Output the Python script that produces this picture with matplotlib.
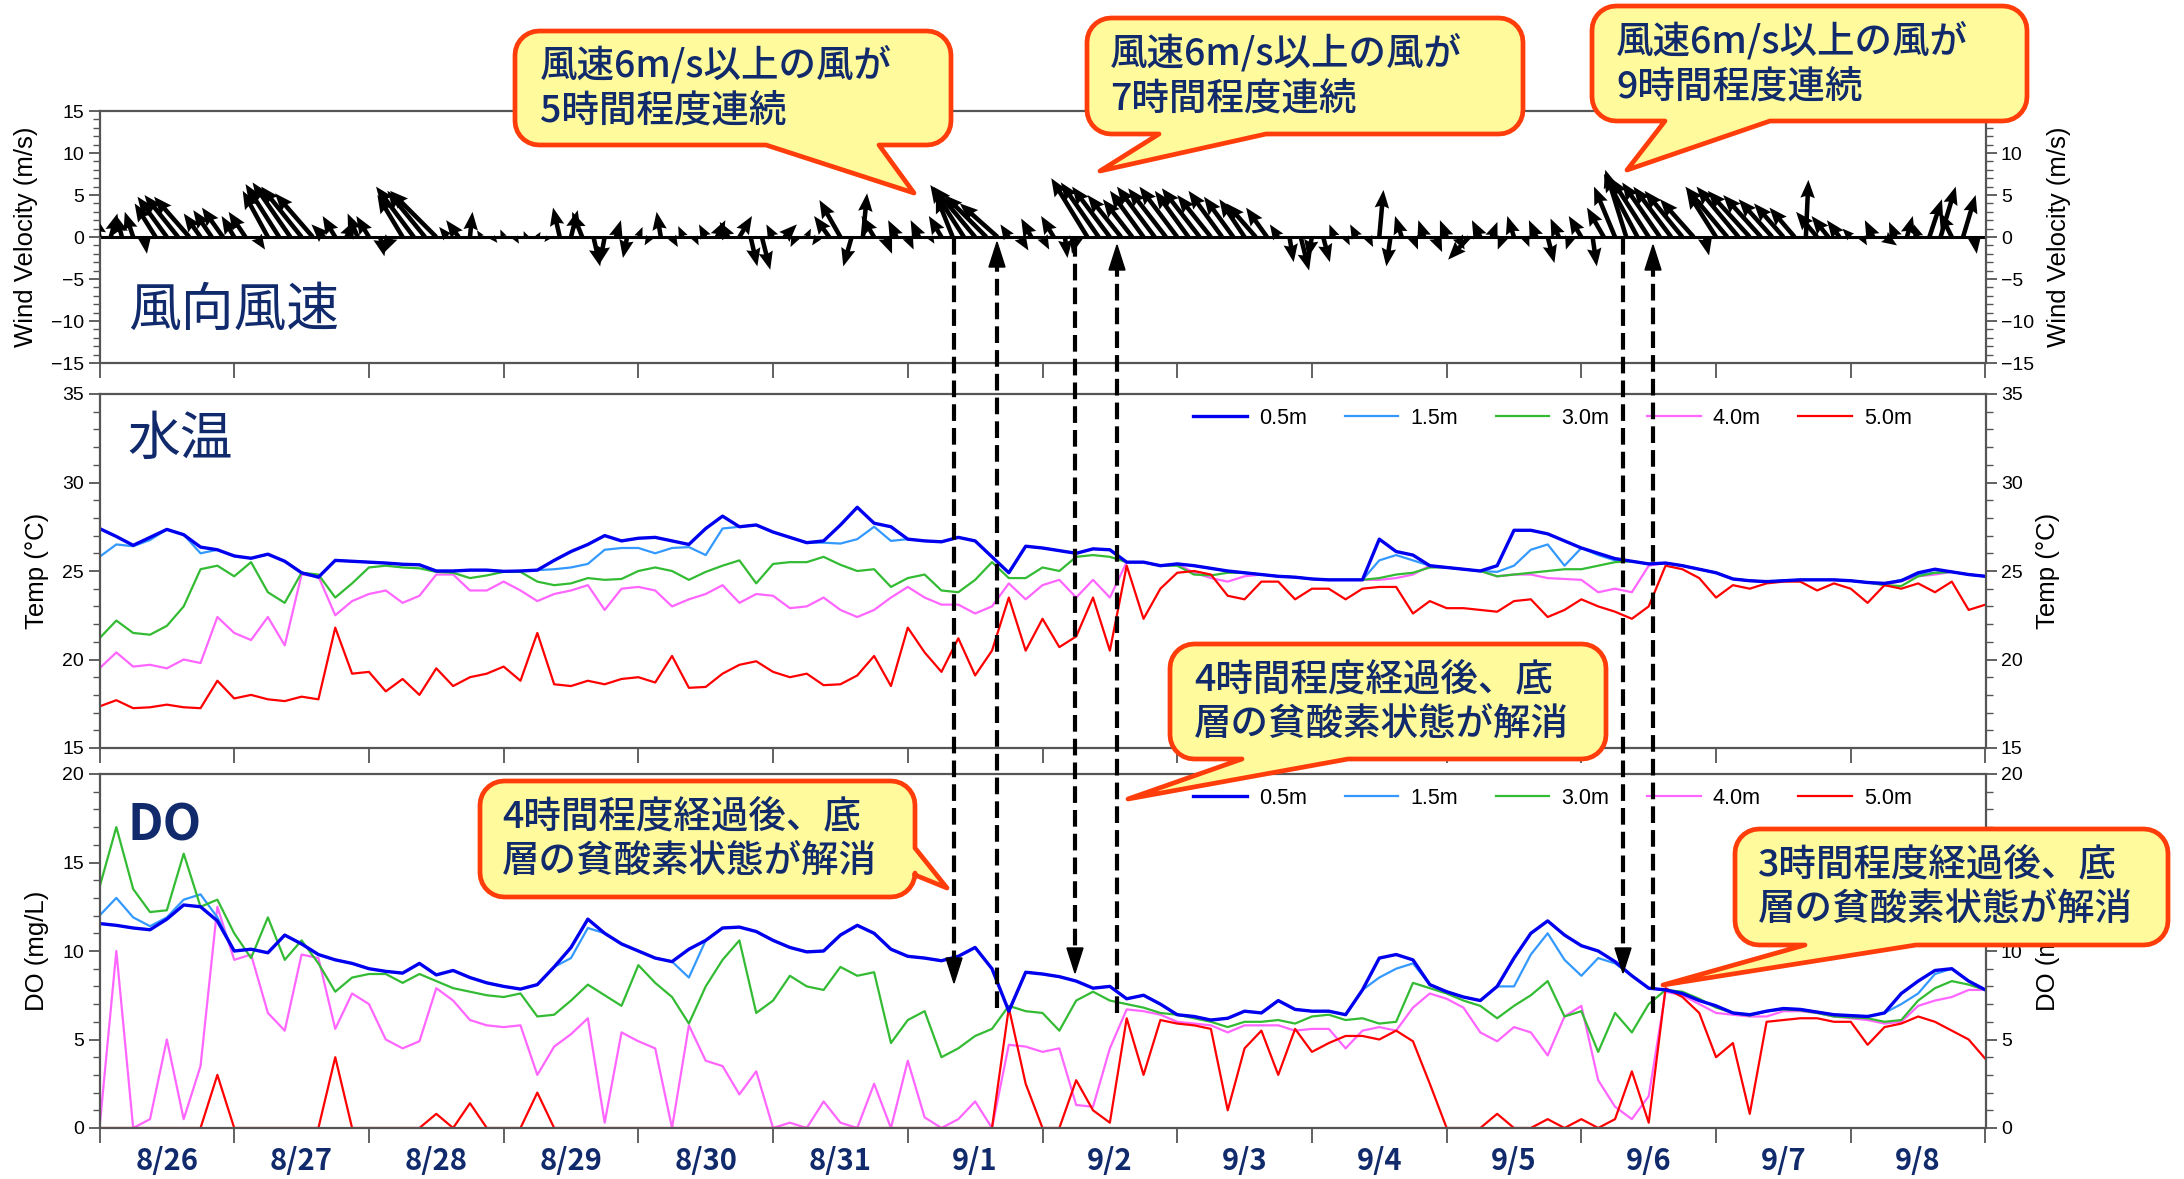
import matplotlib.pyplot as plt
import numpy as np
from matplotlib.patches import Polygon
from matplotlib.lines import Line2D
from matplotlib.transforms import Affine2D
from matplotlib.ticker import MultipleLocator

plt.rcParams['font.family'] = ['Liberation Sans', 'DejaVu Sans']
JP = ['Noto Sans CJK JP', 'DejaVu Sans']
NAVY = '#102a6c'

day_labels = ['8/26', '8/27', '8/28', '8/29', '8/30', '8/31', '9/1',
              '9/2', '9/3', '9/4', '9/5', '9/6', '9/7', '9/8']
depths = ['0.5m', '1.5m', '3.0m', '4.0m', '5.0m']
line_colors = ['#0000ee', '#3399ff', '#33bb33', '#ff66ff', '#ff0000']

# wind vectors every 2 hours from 8/26 00:00 (m/s)
wind_u = [-0.5, 0.8, -0.7, -1.0, 0.3, -2.5, -3.5, -4.0, -4.2, -2.0, -2.2, -2.5,
          -1.5, -2.0, 1.0, -3.0, -4.0, -4.5, -4.8, -4.5, -1.5, -1.5, 1.0, -1.2,
          -1.5, 0.5, -0.8, -3.0, -4.5, -4.5, -5.5, -1.0, -1.5, 0.3, -0.5, 0.6,
          -0.4, 0.5, -0.3, 0.4, -0.5, -0.8, 0.8, -1.2, 0.8, -0.6, 0.6, -0.5,
          0.5, -0.6, -0.5, 0.7, -0.6, 0.5, -0.8, 1.0, -1.0, 1.5, 0.8, 1.0,
          -0.8, 1.5, -0.6, 0.5, -0.7, -1.8, -2.5, -1.0, 0.5, -1.5, 0.8, -1.0,
          0.7, -1.0, 0.5, -1.5, -2.0, -4.0, -5.0, -5.0, -4.5, -1.0, 1.0, -1.2,
          0.8, -1.5, 0.3, -0.5, -4.3, -4.5, -4.5, -4.0, -3.5, -4.0, -4.5, -4.5,
          -4.5, -4.0, -4.5, -4.0, -4.0, -3.5, -3.0, -3.5, -2.5, -1.0, 0.5, 1.0,
          -0.5, 0.8, -0.6, 0.5, -0.8, 0.6, 0.5, -0.5, -0.8, 0.6, -0.7, 0.8,
          -0.8, 0.8, -2.5, -1.0, 0.7, -0.6, -0.8, 0.5, -0.9, 0.8, -1.0, -0.5,
          -1.5, 0.5, -2.0, -2.5, -2.5, -4.0, -4.5, -4.5, -4.5, -4.5, -4.0, 0.5,
          -3.5, -5.0, -5.0, -5.0, -4.5, -4.0, -3.5, -3.0, 0.3, -2.5, -2.0, -1.5,
          -1.0, 0.6, -1.0, 1.5, -0.8, 0.7, -0.5, 1.5, 1.8, -1.5, 1.5, 0.3]
wind_v = [2.5, 2.8, 2.6, 3.0, -2.0, 4.0, 4.8, 5.0, 4.8, 2.8, 3.2, 3.5,
          2.5, 3.0, -1.5, 5.5, 6.3, 6.5, 6.0, 5.2, 1.5, 2.5, 2.0, 2.8,
          2.5, -2.3, -1.8, 5.0, 6.0, 5.5, 5.5, 1.2, 2.0, 3.0, 0.8, -0.7,
          0.9, -0.8, 0.7, 0.6, -0.6, 3.5, 3.2, 3.0, -3.5, -3.2, 2.0, -2.5,
          1.2, -1.0, 3.0, -1.2, 1.3, -1.0, 1.5, 2.0, 1.8, 2.5, -3.5, -3.9,
          1.5, 1.5, -1.2, 1.0, -1.0, 2.5, 4.4, -3.5, 5.2, 2.5, -2.0, 2.0,
          -1.5, 2.0, -0.8, 2.5, 5.0, 6.2, 6.0, 5.0, 4.0, 1.5, -1.6, 2.2,
          -1.5, 2.5, -2.5, -2.0, 7.0, 6.5, 6.0, 5.0, 4.5, 5.5, 6.0, 5.8,
          6.0, 5.5, 5.8, 5.0, 5.5, 4.8, 4.5, 4.0, 3.5, 1.5, -3.0, -4.0,
          -2.5, -3.0, 1.5, -1.0, 1.5, -1.2, 5.6, -3.5, 2.5, -1.5, 2.0, -1.8,
          2.0, -1.5, -2.7, 2.0, 1.8, -1.5, 2.5, -1.2, 2.0, -3.1, 2.2, -1.5,
          2.5, -3.5, 3.5, 6.0, 8.0, 7.5, 7.0, 6.5, 6.0, 5.5, 4.5, -2.2,
          5.5, 6.0, 6.0, 5.5, 5.0, 4.5, 4.0, 3.5, 6.8, 3.0, 2.5, 2.0,
          1.0, -1.0, 2.0, -1.0, 1.8, 2.5, 1.5, 4.5, 6.0, 3.0, 5.0, -2.0]

# water temperature every 3 hours from 8/26 00:00 (deg C)
temp_05 = [27.4, 26.95, 26.45, 26.9, 27.35, 27.05, 26.35, 26.2, 25.85, 25.72, 25.95, 25.55,
           24.9, 24.65, 25.6, 25.55, 25.5, 25.45, 25.38, 25.35, 25.0, 25.0, 25.05, 25.05,
           24.98, 25.0, 25.05, 25.6, 26.1, 26.5, 27.0, 26.7, 26.85, 26.9, 26.7, 26.5,
           27.4, 28.1, 27.5, 27.6, 27.2, 26.9, 26.6, 26.7, 27.6, 28.6, 27.7, 27.5,
           26.8, 26.7, 26.65, 26.9, 26.7, 25.8, 24.9, 26.4, 26.3, 26.15, 26.0, 26.25,
           26.2, 25.5, 25.5, 25.3, 25.4, 25.3, 25.15, 25.0, 24.9, 24.8, 24.7, 24.65,
           24.55, 24.5, 24.5, 24.5, 26.8, 26.1, 25.9, 25.3, 25.2, 25.1, 25.0, 25.3,
           27.3, 27.3, 27.1, 26.7, 26.3, 26.0, 25.7, 25.55, 25.4, 25.45, 25.3, 25.1,
           24.9, 24.55, 24.45, 24.4, 24.45, 24.5, 24.5, 24.5, 24.45, 24.35, 24.3, 24.45,
           24.9, 25.1, 24.95, 24.8, 24.7]
temp_15 = [25.8, 26.5, 26.4, 26.75, 27.35, 27.05, 26.0, 26.2, 25.85, 25.72, 25.95, 25.55,
           24.9, 24.65, 25.6, 25.55, 25.5, 25.45, 25.38, 25.35, 25.0, 25.0, 25.05, 25.05,
           24.98, 25.0, 25.05, 25.1, 25.2, 25.4, 26.2, 26.3, 26.3, 26.0, 26.3, 26.35,
           25.9, 27.4, 27.5, 27.6, 27.2, 26.9, 26.6, 26.6, 26.55, 26.8, 27.5, 26.7,
           26.8, 26.7, 26.65, 26.9, 26.7, 25.8, 24.9, 26.4, 26.3, 26.15, 26.0, 26.25,
           26.2, 25.5, 25.5, 25.3, 25.4, 25.3, 25.15, 25.0, 24.9, 24.8, 24.7, 24.65,
           24.55, 24.5, 24.5, 24.5, 25.6, 25.9, 25.6, 25.3, 25.2, 25.1, 25.0, 24.95,
           25.3, 26.2, 26.5, 25.3, 26.3, 25.9, 25.6, 25.55, 25.4, 25.45, 25.3, 25.1,
           24.9, 24.55, 24.45, 24.4, 24.45, 24.5, 24.5, 24.5, 24.45, 24.35, 24.3, 24.5,
           24.8, 24.9, 24.95, 24.8, 24.7]
temp_30 = [21.2, 22.2, 21.5, 21.4, 21.9, 23.0, 25.1, 25.3, 24.7, 25.5, 23.8, 23.2,
           24.9, 24.8, 23.5, 24.3, 25.2, 25.3, 25.2, 25.15, 24.95, 24.9, 24.6, 24.75,
           24.95, 24.95, 24.4, 24.2, 24.3, 24.6, 24.5, 24.55, 25.0, 25.2, 25.0, 24.5,
           24.95, 25.3, 25.6, 24.3, 25.4, 25.5, 25.5, 25.8, 25.35, 25.0, 25.1, 24.1,
           24.6, 24.8, 23.9, 23.8, 24.5, 25.5, 24.6, 24.6, 25.2, 25.0, 25.8, 25.9,
           25.8, 25.5, 25.5, 25.3, 25.3, 24.8, 24.75, 24.9, 24.9, 24.8, 24.7, 24.65,
           24.55, 24.5, 24.5, 24.5, 24.6, 24.8, 24.9, 25.2, 25.2, 25.1, 25.0, 24.7,
           24.8, 24.9, 25.0, 25.1, 25.1, 25.3, 25.5, 25.55, 25.4, 25.45, 25.3, 25.1,
           24.9, 24.55, 24.45, 24.4, 24.45, 24.5, 24.5, 24.5, 24.45, 24.35, 24.2, 24.15,
           24.7, 24.9, 24.95, 24.8, 24.7]
temp_40 = [19.5, 20.4, 19.6, 19.7, 19.5, 20.0, 19.8, 22.4, 21.5, 21.1, 22.4, 20.8,
           24.8, 24.7, 22.5, 23.3, 23.7, 23.9, 23.2, 23.6, 24.8, 24.8, 23.9, 23.9,
           24.4, 23.9, 23.3, 23.7, 23.9, 24.2, 22.8, 24.0, 24.1, 23.9, 23.0, 23.4,
           23.7, 24.2, 23.2, 23.7, 23.6, 22.9, 23.0, 23.5, 22.8, 22.4, 22.8, 23.5,
           24.1, 23.5, 23.1, 23.1, 22.6, 23.0, 24.3, 23.4, 24.2, 24.5, 23.5, 24.5,
           23.5, 25.5, 25.5, 25.3, 25.4, 24.9, 24.6, 24.4, 24.7, 24.8, 24.7, 24.65,
           24.55, 24.5, 24.5, 24.5, 24.5, 24.6, 24.8, 25.3, 25.2, 25.1, 25.0, 24.7,
           24.8, 24.8, 24.6, 24.55, 24.5, 23.8, 24.0, 23.8, 25.3, 25.45, 25.3, 25.1,
           24.9, 24.55, 24.45, 24.4, 24.45, 24.5, 24.5, 24.5, 24.45, 24.35, 24.2, 24.45,
           24.7, 24.8, 24.95, 24.8, 24.7]
temp_50 = [17.35, 17.7, 17.25, 17.3, 17.45, 17.3, 17.25, 18.8, 17.8, 18.0, 17.75, 17.65,
           17.9, 17.75, 21.8, 19.2, 19.3, 18.2, 18.9, 18.0, 19.5, 18.5, 19.0, 19.2,
           19.6, 18.8, 21.5, 18.6, 18.5, 18.8, 18.6, 18.9, 19.0, 18.7, 20.2, 18.4,
           18.45, 19.2, 19.7, 19.9, 19.3, 19.0, 19.2, 18.55, 18.6, 19.1, 20.2, 18.5,
           21.8, 20.4, 19.3, 21.2, 19.1, 20.5, 23.5, 20.5, 22.3, 20.7, 21.3, 23.5,
           20.5, 25.3, 22.3, 24.0, 24.9, 25.0, 24.8, 23.6, 23.4, 24.4, 24.4, 23.4,
           24.0, 24.0, 23.4, 24.0, 24.1, 24.1, 22.6, 23.3, 22.9, 22.9, 22.8, 22.7,
           23.3, 23.4, 22.4, 22.8, 23.4, 23.0, 22.7, 22.3, 23.0, 25.3, 25.1, 24.6,
           23.5, 24.2, 24.0, 24.3, 24.4, 24.4, 23.9, 24.3, 24.0, 23.2, 24.2, 24.0,
           24.3, 23.8, 24.4, 22.8, 23.1]

# dissolved oxygen every 3 hours from 8/26 00:00 (mg/L)
do_05 = [11.55, 11.45, 11.3, 11.2, 11.8, 12.6, 12.5, 11.7, 10.0, 10.1, 9.9, 10.9,
         10.4, 9.8, 9.5, 9.3, 9.0, 8.85, 8.75, 9.3, 8.65, 8.9, 8.5, 8.2,
         8.0, 7.85, 8.1, 9.1, 10.2, 11.8, 11.0, 10.4, 10.0, 9.6, 9.4, 10.1,
         10.6, 11.3, 11.35, 11.1, 10.6, 10.2, 9.95, 10.0, 10.9, 11.45, 11.0, 10.1,
         9.7, 9.6, 9.45, 9.7, 10.2, 9.0, 6.6, 8.8, 8.7, 8.55, 8.3, 7.9,
         8.0, 7.3, 7.5, 7.0, 6.4, 6.3, 6.1, 6.2, 6.6, 6.5, 7.2, 6.7,
         6.6, 6.6, 6.4, 7.8, 9.6, 9.8, 9.5, 8.1, 7.7, 7.4, 7.2, 8.0,
         9.6, 11.0, 11.7, 10.9, 10.3, 10.0, 9.4, 8.6, 7.9, 7.8, 7.6, 7.2,
         6.9, 6.5, 6.4, 6.6, 6.75, 6.7, 6.55, 6.4, 6.35, 6.3, 6.5, 7.6,
         8.3, 8.9, 9.0, 8.3, 7.8]
do_15 = [12.0, 13.0, 11.9, 11.4, 11.9, 12.9, 13.2, 11.9, 10.0, 10.1, 9.9, 10.9,
         10.4, 9.8, 9.5, 9.3, 9.0, 8.85, 8.75, 9.3, 8.65, 8.9, 8.5, 8.2,
         8.0, 7.85, 8.1, 9.1, 9.6, 11.3, 11.0, 10.4, 10.0, 9.6, 9.4, 8.5,
         10.6, 11.3, 11.35, 11.1, 10.6, 10.2, 9.95, 10.0, 10.9, 11.45, 11.0, 10.1,
         9.7, 9.6, 9.45, 9.7, 10.2, 9.0, 6.6, 8.8, 8.7, 8.55, 8.3, 7.9,
         8.0, 7.3, 7.5, 7.0, 6.4, 6.3, 6.1, 6.2, 6.6, 6.5, 7.2, 6.7,
         6.6, 6.6, 6.4, 7.8, 8.5, 9.0, 9.3, 8.1, 7.7, 7.4, 7.2, 8.0,
         8.0, 9.8, 11.0, 9.5, 8.6, 9.6, 9.3, 8.6, 7.9, 7.8, 7.6, 7.2,
         6.9, 6.5, 6.4, 6.6, 6.75, 6.7, 6.55, 6.4, 6.35, 6.3, 6.5, 7.0,
         7.6, 8.7, 9.0, 8.3, 7.8]
do_30 = [13.6, 17.0, 13.5, 12.2, 12.3, 15.5, 12.5, 12.9, 11.0, 9.6, 11.9, 9.5,
         10.6, 9.3, 7.7, 8.5, 8.7, 8.7, 8.2, 8.7, 8.3, 7.9, 7.7, 7.5,
         7.4, 7.6, 6.3, 6.4, 7.2, 8.1, 7.5, 6.9, 9.2, 8.2, 7.4, 5.9,
         8.0, 9.5, 10.6, 6.5, 7.2, 8.6, 8.0, 7.8, 9.1, 8.6, 8.8, 4.8,
         6.1, 6.6, 4.0, 4.5, 5.2, 5.6, 6.9, 6.6, 6.5, 5.5, 7.2, 7.7,
         7.2, 7.0, 6.8, 6.5, 6.4, 6.2, 6.0, 5.7, 6.0, 6.0, 6.1, 5.9,
         6.3, 6.4, 6.1, 6.2, 5.9, 6.0, 8.2, 7.9, 7.6, 7.2, 6.9, 6.2,
         6.9, 7.5, 8.3, 6.3, 6.6, 4.3, 6.5, 5.4, 7.0, 7.8, 7.7, 7.3,
         6.8, 6.5, 6.35, 6.6, 6.7, 6.65, 6.5, 6.3, 6.25, 6.2, 6.0, 6.1,
         7.2, 7.9, 8.3, 8.1, 7.8]
do_40 = [0.0, 10.0, 0.0, 0.5, 5.0, 0.5, 3.5, 12.5, 9.5, 9.8, 6.5, 5.5,
         9.8, 9.6, 5.6, 7.6, 7.0, 5.0, 4.5, 4.9, 7.9, 7.2, 6.1, 5.8,
         5.7, 5.8, 3.0, 4.6, 5.3, 6.2, 0.3, 5.4, 4.9, 4.5, 0.0, 5.8,
         3.8, 3.5, 1.9, 3.2, 0.0, 0.3, 0.0, 1.5, 0.3, 0.0, 2.5, 0.0,
         3.8, 0.6, 0.0, 0.5, 1.5, 0.0, 4.7, 4.6, 4.3, 4.5, 1.3, 1.2,
         4.5, 6.7, 6.6, 6.4, 6.0, 5.9, 5.8, 5.4, 5.8, 5.8, 5.8, 5.5,
         5.6, 5.6, 4.5, 5.5, 5.7, 5.5, 6.8, 7.6, 7.3, 6.8, 5.4, 4.9,
         5.7, 5.4, 4.1, 6.3, 6.9, 2.7, 1.2, 0.5, 1.8, 7.7, 7.5, 7.0,
         6.5, 6.4, 6.3, 6.3, 6.6, 6.6, 6.5, 6.3, 6.2, 6.1, 5.9, 6.0,
         6.9, 7.2, 7.4, 7.8, 7.8]
do_50 = [0.0, 0.0, 0.0, 0.0, 0.0, 0.0, 0.0, 3.0, 0.0, 0.0, 0.0, 0.0,
         0.0, 0.0, 4.0, 0.0, 0.0, 0.0, 0.0, 0.0, 0.8, 0.0, 1.4, 0.0,
         0.0, 0.0, 2.0, 0.0, 0.0, 0.0, 0.0, 0.0, 0.0, 0.0, 0.0, 0.0,
         0.0, 0.0, 0.0, 0.0, 0.0, 0.0, 0.0, 0.0, 0.0, 0.0, 0.0, 0.0,
         0.0, 0.0, 0.0, 0.0, 0.0, 0.0, 6.8, 2.5, 0.0, 0.0, 2.7, 1.0,
         0.3, 6.2, 3.0, 6.1, 5.9, 5.8, 5.6, 1.0, 4.5, 5.5, 3.0, 5.6,
         4.3, 4.8, 5.2, 5.2, 5.0, 5.5, 4.9, 2.5, 0.0, 0.0, 0.0, 0.8,
         0.0, 0.0, 0.5, 0.0, 0.5, 0.0, 0.5, 3.2, 0.3, 7.9, 7.4, 6.5,
         4.0, 4.8, 0.8, 6.0, 6.1, 6.2, 6.2, 6.0, 6.0, 4.7, 5.7, 5.9,
         6.3, 6.0, 5.5, 5.0, 3.9]

wind_note = '風速6m/s以上の風が\n{}時間程度連続'
do_note = '{}時間程度経過後、底\n層の貧酸素状態が解消'

W, H = 2184, 1179
fig = plt.figure(figsize=(W / 100, H / 100), dpi=100)
px = Affine2D().scale(1 / W, -1 / H).translate(0, 1) + fig.transFigure


def add_axes(top, bottom):
    return fig.add_axes([99.5 / W, 1 - bottom / H, 1886 / W, (bottom - top) / H])


def style(ax, ylim, label, left_x, right_x):
    ax.set_xlim(0, 14)
    ax.set_ylim(*ylim)
    ax.xaxis.set_major_locator(MultipleLocator(1))
    ax.yaxis.set_major_locator(MultipleLocator(5))
    ax.yaxis.set_minor_locator(MultipleLocator(1))
    ax.tick_params(axis='y', which='both', direction='out', left=True, right=True,
                   labelleft=True, labelright=True, color='#555555', labelsize=14)
    ax.tick_params(axis='y', which='major', length=8, width=1.3, pad=3)
    ax.tick_params(axis='y', which='minor', length=5, width=1.0)
    ax.tick_params(axis='x', which='major', direction='out', length=11, width=1.3,
                   color='#555555', labelbottom=False)
    for s in ax.spines.values():
        s.set_color('#555555')
        s.set_linewidth(1.6)
    for x in (left_x, right_x):
        ax.text(x, 0.5, label, transform=ax.transAxes, rotation=90,
                ha='center', va='center', fontsize=18.5)


ax_w = add_axes(111, 363)
ax_t = add_axes(394, 748)
ax_d = add_axes(774, 1128)

style(ax_w, (-15, 15), 'Wind Velocity (m/s)', -0.039, 1.039)
style(ax_t, (15, 35), 'Temp (°C)', -0.033, 1.033)
style(ax_d, (0, 20), 'DO (mg/L)', -0.033, 1.033)

# wind sticks
tw = np.arange(len(wind_u)) / 12
ax_w.axhline(0, color='black', lw=2.2, zorder=2)
ax_w.quiver(tw, np.zeros(len(tw)), wind_u, wind_v, angles='uv', scale_units='y',
            scale=1, width=0.0024, headwidth=3.2, headlength=4, headaxislength=3.6,
            color='black', zorder=3)

# temperature and DO lines
t3 = np.arange(len(temp_05)) / 8
order = [3, 1, 2, 4, 0]
temps = [temp_05, temp_15, temp_30, temp_40, temp_50]
dos = [do_05, do_15, do_30, do_40, do_50]
for ax, series in ((ax_t, temps), (ax_d, dos)):
    handles = [None] * 5
    for z, i in enumerate(order):
        handles[i], = ax.plot(t3, series[i], color=line_colors[i],
                              lw=2.4 if i == 0 else 1.6, zorder=2 + z * 0.1)
    ax.legend(handles, depths, loc='center left', bbox_to_anchor=(0.58, 0.932),
              ncol=5, frameon=False, fontsize=15.5, handlelength=2.5,
              handletextpad=0.55, columnspacing=1.75, borderpad=0, borderaxespad=0)

ax_d.set_xticks(np.arange(14) + 0.5, minor=True)
ax_d.set_xticklabels(day_labels, minor=True, fontsize=21, color=NAVY, family=JP,
                     fontweight='bold')
ax_d.tick_params(axis='x', which='minor', length=0, pad=13)

# panel titles
ax_w.text(0.015, 0.21, '風向風速', transform=ax_w.transAxes, fontsize=38,
          color=NAVY, family=JP, va='center')
ax_t.text(0.015, 0.873, '水温', transform=ax_t.transAxes, fontsize=38,
          color=NAVY, family=JP, va='center')
ax_d.text(0.015, 0.853, 'DO', transform=ax_d.transAxes, fontsize=36,
          color=NAVY, family=JP, va='center', fontweight='bold')


# callout boxes (pixel coordinates of the image, y downward)
def callout(x0, y0, x1, y1, side, a, b, tip, text, tx, r=24):
    pts = []

    def arc(cx, cy, t0, t1):
        for t in np.linspace(np.radians(t0), np.radians(t1), 8):
            pts.append((cx + r * np.cos(t), cy + r * np.sin(t)))

    arc(x1 - r, y0 + r, -90, 0)
    if side == 'right':
        pts.extend([(x1, a), tip, (x1, b)])
    arc(x1 - r, y1 - r, 0, 90)
    if side == 'bottom':
        pts.extend([(b, y1), tip, (a, y1)])
    arc(x0 + r, y1 - r, 90, 180)
    arc(x0 + r, y0 + r, 180, 270)
    fig.add_artist(Polygon(pts, closed=True, transform=px, facecolor='#fffb9c',
                           edgecolor='#ff3d0a', lw=3.4, joinstyle='round', zorder=10))
    fig.text(tx / W, 1 - (y0 + y1) / 2 / H, text, fontsize=27, color=NAVY,
             family=JP, va='center', ha='left', linespacing=1.22, zorder=11,
             fontweight='medium')


callout(515, 31, 951, 145, 'bottom', 766, 879, (914, 193), wind_note.format(5), 540)
callout(1087, 18, 1523, 134, 'bottom', 1159, 1266, (1100, 171), wind_note.format(7), 1110)
callout(1592, 6, 2027, 121, 'bottom', 1665, 1770, (1627, 170), wind_note.format(9), 1616)
callout(1170, 644, 1606, 759, 'bottom', 1242, 1348, (1128, 799), do_note.format(4), 1194)
callout(480, 781, 915, 897, 'right', 848, 875, (947, 888), do_note.format(4), 502)
callout(1735, 829, 2168, 945, 'bottom', 1805, 1916, (1663, 985), do_note.format(3), 1758)


# dashed arrows linking wind events and DO response
def dashed_arrow(x, y_start, y_tip):
    d = 1 if y_tip > y_start else -1
    fig.add_artist(Line2D([x, x], [y_start, y_tip - d * 22], transform=px, color='black',
                          lw=3, ls=(0, (4, 1.7)), zorder=9))
    fig.add_artist(Polygon([(x - 8, y_tip - d * 25), (x + 8, y_tip - d * 25), (x, y_tip)],
                           closed=True, transform=px, color='black', zorder=9))


dashed_arrow(954, 238, 983)
dashed_arrow(997, 1008, 242)
dashed_arrow(1075, 240, 973)
dashed_arrow(1117, 1013, 245)
dashed_arrow(1623, 238, 973)
dashed_arrow(1653, 1013, 245)

fig.savefig('out.png', dpi=100)
